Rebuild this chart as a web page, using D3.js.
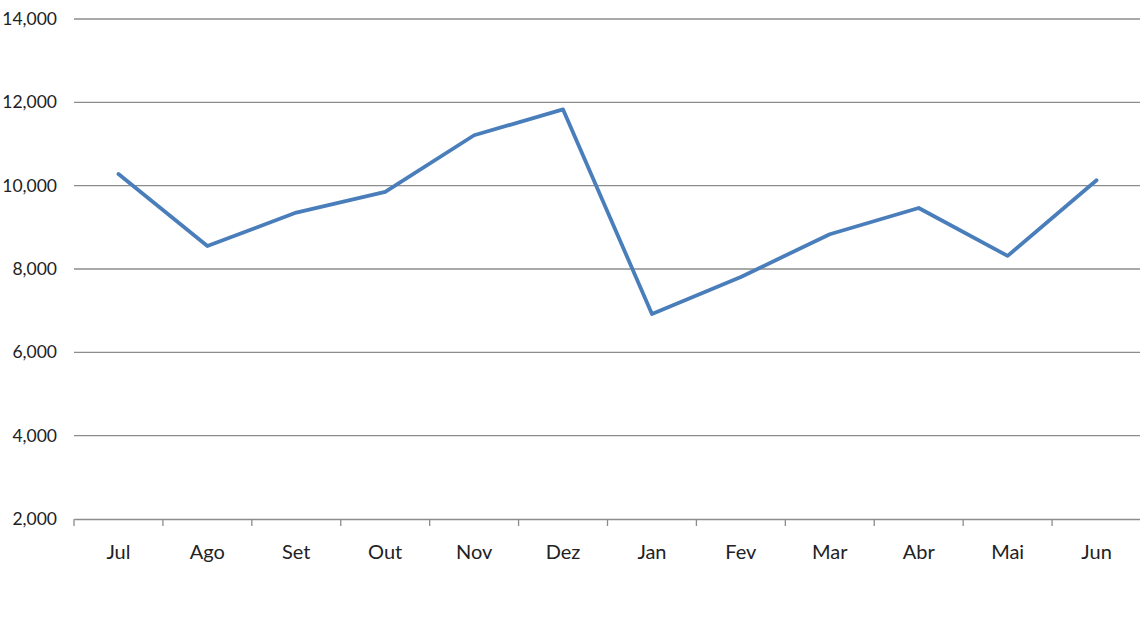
<!DOCTYPE html>
<html><head><meta charset="utf-8">
<script src="https://cdn.jsdelivr.net/npm/d3@7"></script>
<style>body{margin:0;background:#fff}svg text{font-family:Lato,"Open Sans",sans-serif;fill:#222}</style>
</head><body><svg id="c" width="1140" height="627"></svg>
<script>
const months = ["Jul","Ago","Set","Out","Nov","Dez","Jan","Fev","Mar","Abr","Mai","Jun"];
const values = [10280,8550,9355,9850,11210,11830,6920,7810,8835,9465,8315,10130];
const yTicks = [2000,4000,6000,8000,10000,12000,14000];

const svg = d3.select("#c");
const x = d3.scaleBand().domain(months).range([74,1141]);
const y = d3.scaleLinear().domain([2000,14000]).range([519,19]);
const fmt = d3.format(",");

// gridlines
svg.append("g").selectAll("line").data(yTicks.filter(d=>d>2000)).join("line")
  .attr("x1",74).attr("x2",1140).attr("y1",d=>y(d)).attr("y2",d=>y(d))
  .attr("stroke","#8c8c8c").attr("stroke-width",1.3);

// y labels
svg.append("g").selectAll("text").data(yTicks).join("text")
  .attr("x",57).attr("y",d=>y(d)).attr("dy","0.35em").attr("text-anchor","end")
  .style("font-size","17.5px").text(d=>fmt(d));

// x axis
const xa = svg.append("g").attr("transform","translate(0,519)")
  .call(d3.axisBottom(x).tickSize(0).tickPadding(26));
xa.select(".domain").attr("stroke","#8c8c8c").attr("stroke-width",1.3);
xa.selectAll("text").style("font-size","20px").style("font-family","Lato,'Open Sans',sans-serif").attr("fill","#222");
const bounds = months.map(m=>x(m)).concat([x(months[months.length-1])+x.bandwidth()]);
xa.selectAll(".bt").data(bounds).join("line").attr("class","bt")
  .attr("x1",d=>d).attr("x2",d=>d).attr("y1",0).attr("y2",7)
  .attr("stroke","#8c8c8c").attr("stroke-width",1.3);

// line
const line = d3.line().x((d,i)=>x(months[i])+x.bandwidth()/2).y(d=>y(d));
svg.append("path").datum(values).attr("d",line)
  .attr("fill","none").attr("stroke","#4a7ebb").attr("stroke-width",3.8)
  .attr("stroke-linejoin","round").attr("stroke-linecap","round");
</script></body></html>
